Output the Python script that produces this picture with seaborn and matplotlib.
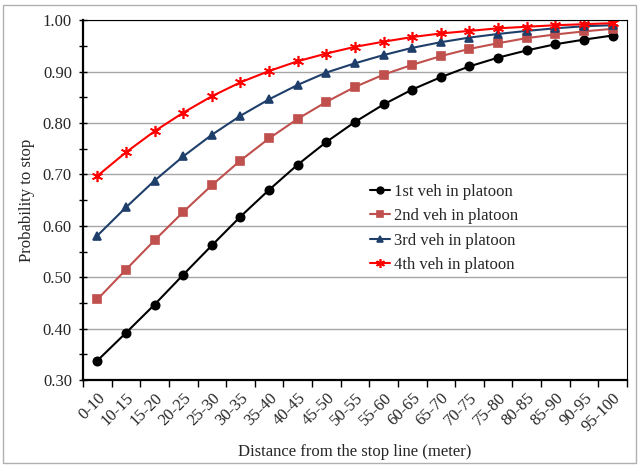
import pandas as pd
import matplotlib
matplotlib.use("Agg")
from matplotlib import pyplot as plt
from matplotlib.patches import Rectangle
from matplotlib.ticker import MultipleLocator, FixedLocator, FormatStrFormatter
import seaborn as sns

sns.set_style("white")
plt.rcParams["font.family"] = ["Liberation Serif", "DejaVu Serif"]

distances = ["0-10", "10-15", "15-20", "20-25", "25-30", "30-35", "35-40", "40-45",
             "45-50", "50-55", "55-60", "60-65", "65-70", "70-75", "75-80", "80-85",
             "85-90", "90-95", "95-100"]
veh1 = [0.338, 0.392, 0.447, 0.505, 0.562, 0.618, 0.670, 0.719, 0.763, 0.802,
        0.836, 0.865, 0.889, 0.910, 0.927, 0.941, 0.953, 0.962, 0.970]
veh2 = [0.457, 0.515, 0.572, 0.627, 0.679, 0.727, 0.770, 0.808, 0.841, 0.870,
        0.894, 0.913, 0.930, 0.944, 0.955, 0.965, 0.972, 0.978, 0.983]
veh3 = [0.581, 0.636, 0.688, 0.735, 0.777, 0.814, 0.846, 0.874, 0.898, 0.916,
        0.932, 0.946, 0.957, 0.966, 0.973, 0.979, 0.984, 0.988, 0.990]
veh4 = [0.697, 0.743, 0.784, 0.820, 0.852, 0.879, 0.901, 0.920, 0.935, 0.948,
        0.958, 0.967, 0.974, 0.979, 0.984, 0.987, 0.990, 0.992, 0.994]
names = ["1st veh in platoon", "2nd veh in platoon", "3rd veh in platoon", "4th veh in platoon"]
series = [veh1, veh2, veh3, veh4]

colors = ["black", "#C0504D", "#1F3F6B", "#FF0000"]
markers = ["o", "s", "^", (6, 2, 0)]

fig = plt.figure(figsize=(6.39, 4.67), dpi=100)
ax = fig.add_axes([0.130, 0.186, 0.851, 0.771])
fig.patches.append(Rectangle((0.004, 0.008), 0.992, 0.982, transform=fig.transFigure,
                             fill=False, edgecolor="#b0b0b0", linewidth=1.0))

for name, vals, c, m in zip(names, series, colors, markers):
    d = pd.DataFrame({"Distance": distances, "Probability": vals})
    sns.lineplot(data=d, x="Distance", y="Probability", color=c, marker=m,
                 markersize=6 if m != (6, 2, 0) else 8, markeredgewidth=1.2,
                 markeredgecolor=c, linewidth=1.5, label=name, ax=ax, sort=False)

ax.set_ylim(0.30, 1.00)
ax.set_xlim(-0.5, len(distances) - 0.5)
ax.yaxis.set_major_locator(MultipleLocator(0.1))
ax.yaxis.set_minor_locator(MultipleLocator(0.05))
ax.yaxis.set_major_formatter(FormatStrFormatter("%.2f"))
ax.grid(axis="y", which="major", color="#a6a6a6", linewidth=1.0)
ax.set_axisbelow(True)

ax.set_xticks(range(len(distances)))
ax.set_xticklabels(distances, rotation=45, ha="right", rotation_mode="anchor")
ax.xaxis.set_minor_locator(FixedLocator([i - 0.5 for i in range(len(distances) + 1)]))
ax.tick_params(axis="x", which="major", length=0, labelsize=12, pad=7)
ax.tick_params(axis="x", which="minor", length=5, width=1, direction="out", color="black",
               bottom=True)
ax.tick_params(axis="y", which="both", length=6, width=1, direction="inout",
               color="black", labelsize=12, left=True, pad=5)

for side in ["top", "right"]:
    ax.spines[side].set_color("black")
    ax.spines[side].set_linewidth(0.8)
for side in ["left", "bottom"]:
    ax.spines[side].set_color("black")
    ax.spines[side].set_linewidth(1.6)

ax.set_xlabel("Distance from the stop line (meter)", fontsize=12, labelpad=7)
ax.set_ylabel("Probability to stop", fontsize=12, labelpad=6)

leg = ax.legend(title=None, frameon=False, loc="upper left", bbox_to_anchor=(0.528, 0.545),
                borderaxespad=0, borderpad=0, fontsize=12, handlelength=1.2,
                labelspacing=0.5, handletextpad=0.2, markerscale=0.8)

fig.savefig("out.png", dpi=100)
